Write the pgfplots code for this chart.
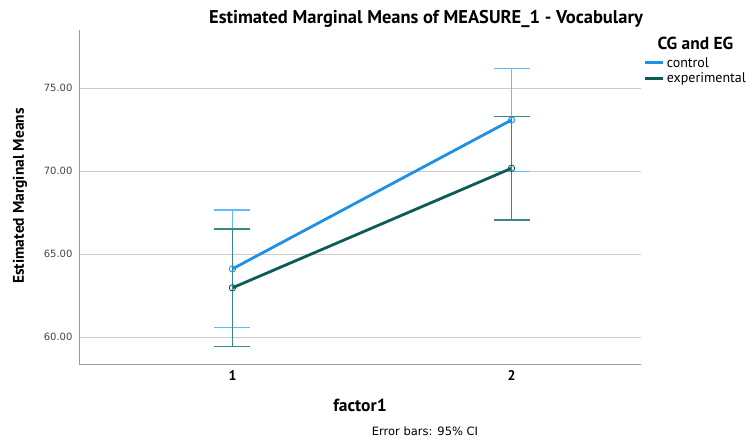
\documentclass[border=0pt]{standalone}
\usepackage{pgfplots}
\pgfplotsset{compat=1.18}
\usepackage{fontspec}
\setmainfont{DejaVu Sans}
\newfontfamily\boldf{PT Sans}
\definecolor{ctrl}{HTML}{1E90E6}
\definecolor{ctrlerr}{HTML}{5FBDF5}
\definecolor{expl}{HTML}{0A5C55}
\definecolor{experr}{HTML}{3A8886}
\definecolor{tickc}{HTML}{444444}
\begin{document}
\begin{tikzpicture}[x=1pt,y=1pt]
\useasboundingbox (0,0) rectangle (756,439);
\begin{axis}[
  at={(79pt,75pt)}, anchor=south west,
  width=562pt, height=334pt, scale only axis,
  xmin=0.45, xmax=2.464, ymin=58.37, ymax=78.49,
  axis x line*=bottom, axis y line*=left,
  axis line style={draw=gray!80, line width=0.8pt},
  xtick={1,2}, ytick={60,65,70,75},
  yticklabels={60.00,65.00,70.00,75.00},
  major tick length=0pt,
  ymajorgrids, grid style={draw=gray!40, line width=0.8pt},
  /pgf/number format/assume math mode=true,
  xticklabel style={font=\boldf\bfseries\fontsize{14}{14}\selectfont, yshift=-3pt},
  yticklabel style={font=\fontsize{10}{10}\selectfont, text=tickc, xshift=-3pt},
  legend style={at={(1.005,0.925)}, anchor=north west, draw=none, fill=none,
    font=\boldf\fontsize{14}{14}\selectfont, inner sep=0pt, row sep=0pt},
  legend cell align=left,
  legend image code/.code={\draw[line width=2.8pt] (0pt,0pt) -- (18pt,0pt);},
  clip=false,
]
\addplot[ctrl, line width=2.8pt, mark=o, mark size=3.2pt,
  mark options={line width=0.9pt, ctrl},
  error bars/.cd, y dir=both, y explicit,
  error bar style={ctrlerr, line width=1.3pt},
  error mark options={ctrlerr, rotate=90, mark size=18pt, line width=1.3pt}]
  coordinates {(1,64.10) +- (0,3.55) (2,73.07) +- (0,3.11)};
\addlegendentry{control}
\addplot[expl, line width=2.8pt, mark=o, mark size=3.2pt,
  mark options={line width=0.9pt, expl},
  error bars/.cd, y dir=both, y explicit,
  error bar style={experr, line width=1.3pt},
  error mark options={experr, rotate=90, mark size=18pt, line width=1.3pt}]
  coordinates {(1,62.96) +- (0,3.54) (2,70.16) +- (0,3.11)};
\addlegendentry{experimental}
\end{axis}
\node[font=\boldf\bfseries\fontsize{18.5}{18.5}\selectfont] at (426,420) {Estimated Marginal Means of MEASURE\_1 - Vocabulary};
\node[font=\boldf\bfseries\fontsize{17.4}{17.4}\selectfont, anchor=west] at (654,396) {CG and EG};
\node[font=\boldf\bfseries\fontsize{15.5}{15.5}\selectfont, rotate=90] at (20,243) {Estimated Marginal Means};
\node[font=\boldf\bfseries\fontsize{17.5}{17.5}\selectfont] at (360,34) {factor1};
\node[font=\fontsize{11.5}{11.5}\selectfont] at (425,8) {Error bars: 95\% CI};
\end{tikzpicture}
\end{document}
